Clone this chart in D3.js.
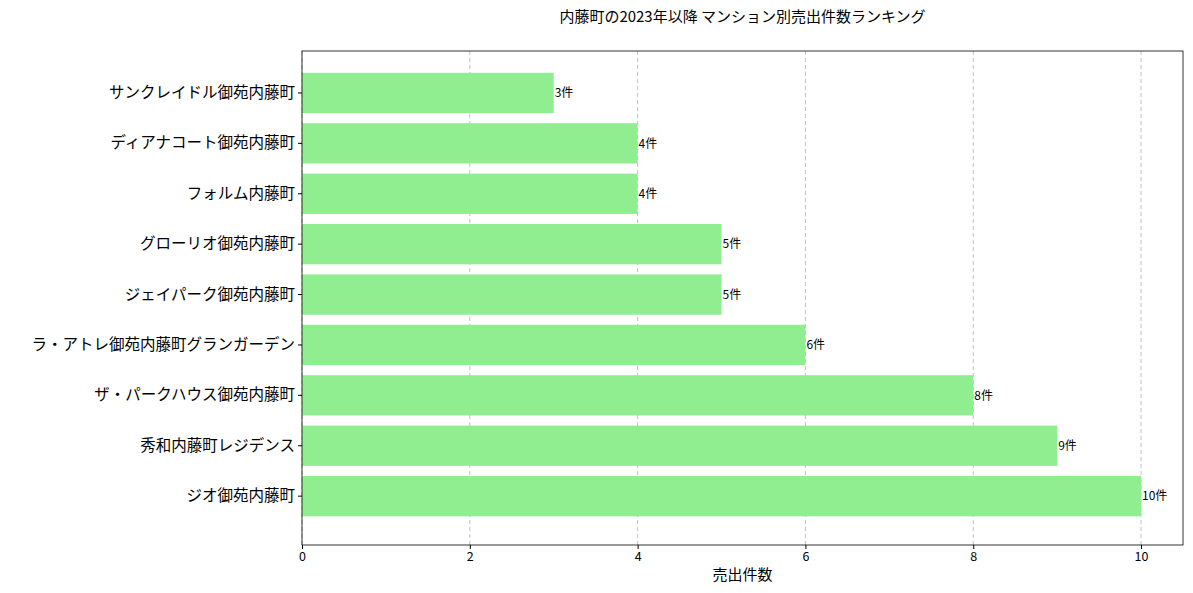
<!DOCTYPE html>
<html><head><meta charset="utf-8">
<script src="https://cdn.jsdelivr.net/npm/d3@7"></script>
<style>body{margin:0;background:#fff;font-family:"Noto Sans CJK JP",sans-serif}</style>
</head><body><svg id="chart" width="1193" height="593"></svg>
<script>
const names = ["サンクレイドル御苑内藤町","ディアナコート御苑内藤町","フォルム内藤町","グローリオ御苑内藤町","ジェイパーク御苑内藤町","ラ・アトレ御苑内藤町グランガーデン","ザ・パークハウス御苑内藤町","秀和内藤町レジデンス","ジオ御苑内藤町"];
const counts = [3,4,4,5,5,6,8,9,10];
const xTicks = [0,2,4,6,8,10];

const svg = d3.select("#chart");
const m = {left:302, right:1183, top:51, bottom:545};
const x = d3.scaleLinear().domain([0,10.5]).range([m.left,m.right]);
const y = d3.scaleBand().domain(names).range([47.6,541.5]).paddingInner(0.2).paddingOuter(0.5);

// grid
svg.append("g").selectAll("line").data(xTicks).join("line")
  .attr("x1",d=>x(d)).attr("x2",d=>x(d)).attr("y1",m.top).attr("y2",m.bottom)
  .attr("stroke","#b0b0b0").attr("stroke-dasharray","4,3").attr("stroke-width",0.8);

svg.append("g").selectAll("rect").data(names).join("rect")
  .attr("x",x(0)).attr("y",d=>y(d)).attr("height",y.bandwidth())
  .attr("width",(d,i)=>x(counts[i])-x(0)).attr("fill","#90ee90");

svg.append("g").selectAll("text").data(names).join("text")
  .attr("x",(d,i)=>x(counts[i])+1).attr("y",d=>y(d)+y.bandwidth()/2)
  .attr("dy","0.35em").attr("font-size",12).text((d,i)=>counts[i]+"件");

svg.append("rect").attr("x",m.left).attr("y",m.top).attr("width",m.right-m.left)
  .attr("height",m.bottom-m.top).attr("fill","none").attr("stroke","#000").attr("stroke-width",0.8);

const xa = svg.append("g").attr("transform",`translate(0,${m.bottom})`)
  .call(d3.axisBottom(x).tickValues(xTicks).tickSize(4).tickSizeOuter(0));
xa.select(".domain").remove();
xa.selectAll("text").attr("font-size",12.5).attr("font-family","Noto Sans CJK JP").attr("fill","#000");

const ya = svg.append("g").attr("transform",`translate(${m.left},0)`)
  .call(d3.axisLeft(y).tickSize(4).tickSizeOuter(0));
ya.select(".domain").remove();
ya.selectAll("text").attr("font-size",15.5).attr("font-family","Noto Sans CJK JP").attr("fill","#000");

svg.append("text").attr("x",(m.left+m.right)/2).attr("y",580).attr("text-anchor","middle")
  .attr("font-size",15).text("売出件数");
svg.append("text").attr("x",(m.left+m.right)/2).attr("y",22).attr("text-anchor","middle")
  .attr("font-size",15).text("内藤町の2023年以降 マンション別売出件数ランキング");
</script></body></html>
